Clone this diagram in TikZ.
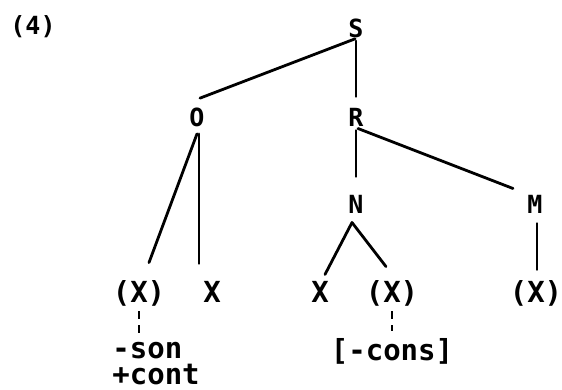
\documentclass[tikz,border=0pt]{standalone}
\usepackage{fontspec}
\setmonofont{DejaVu Sans Mono}
\usetikzlibrary{calc}
\begin{document}
\begin{tikzpicture}[x=0.5pt,y=-0.5pt,
  big/.style={inner sep=0pt,anchor=base,font=\ttfamily\bfseries\fontsize{14.5}{17}\selectfont},
  feat/.style={inner sep=0pt,font=\ttfamily\bfseries\fontsize{14.5}{13}\selectfont},
  lab/.style={inner sep=0pt,font=\ttfamily\bfseries\fontsize{12.5}{15}\selectfont},
  edge/.style={line width=1.4pt,line cap=round},
  link/.style={line width=1.3pt,dash pattern=on 4pt off 3pt}]
\useasboundingbox (0,0) rectangle (562,390);
% labels
\node[lab] (num) at (33,27) {(4)};
\node[lab] (S) at (356,28) {S};
\node[lab] (O) at (197,117) {O};
\node[lab] (R) at (356,117) {R};
\node[lab] (N) at (356,204) {N};
\node[lab] (M) at (535,204) {M};
\node[big] (X1) at (139,302) {(X)};
\node[big] (X2) at (212,302) {X};
\node[big] (X3) at (320,302) {X};
\node[big] (X4) at (392,302) {(X)};
\node[big] (X5) at (536,302) {(X)};
\node[feat,anchor=north west,align=left] (son) at (112,342) {-son\\+cont};
\node[feat,anchor=base] (cons) at (392,360) {[-cons]};
% connectors
\draw[edge] ($(S.south)+(-1,1)$) -- ($(O.north)+(3,-9)$);
\draw[edge] ($(S.south)+(0,3)$) -- ($(R.north)+(0,-11)$);
\draw[edge] ($(R.south)+(0,4)$) -- ($(N.north)+(0,-18)$);
\draw[edge] ($(R.south)+(2,2)$) -- ($(M.north)+(-22,-6)$);
\draw[edge] ($(O.south)+(0,7)$) -- ($(X1.north)+(10,-17)$);
\draw[edge] ($(O.south)+(2,7)$) -- ($(X2.north)+(-13,-17)$);
\draw[edge] ($(N.south)+(-4,9)$) -- ($(X3.north)+(5,-6)$);
\draw[edge] ($(N.south)+(-4,9)$) -- ($(X4.north)+(-6,-13)$);
\draw[edge] ($(M.south)+(2,10)$) -- ($(X5.north)+(1,-10)$);
\draw[link] ($(X1.south)+(0,5)$) -- ($(X1.south |- son.north)+(0,-8)$);
\draw[link] ($(X4.south)+(0,5)$) -- ($(cons.north)+(0,-7)$);
\end{tikzpicture}
\end{document}
